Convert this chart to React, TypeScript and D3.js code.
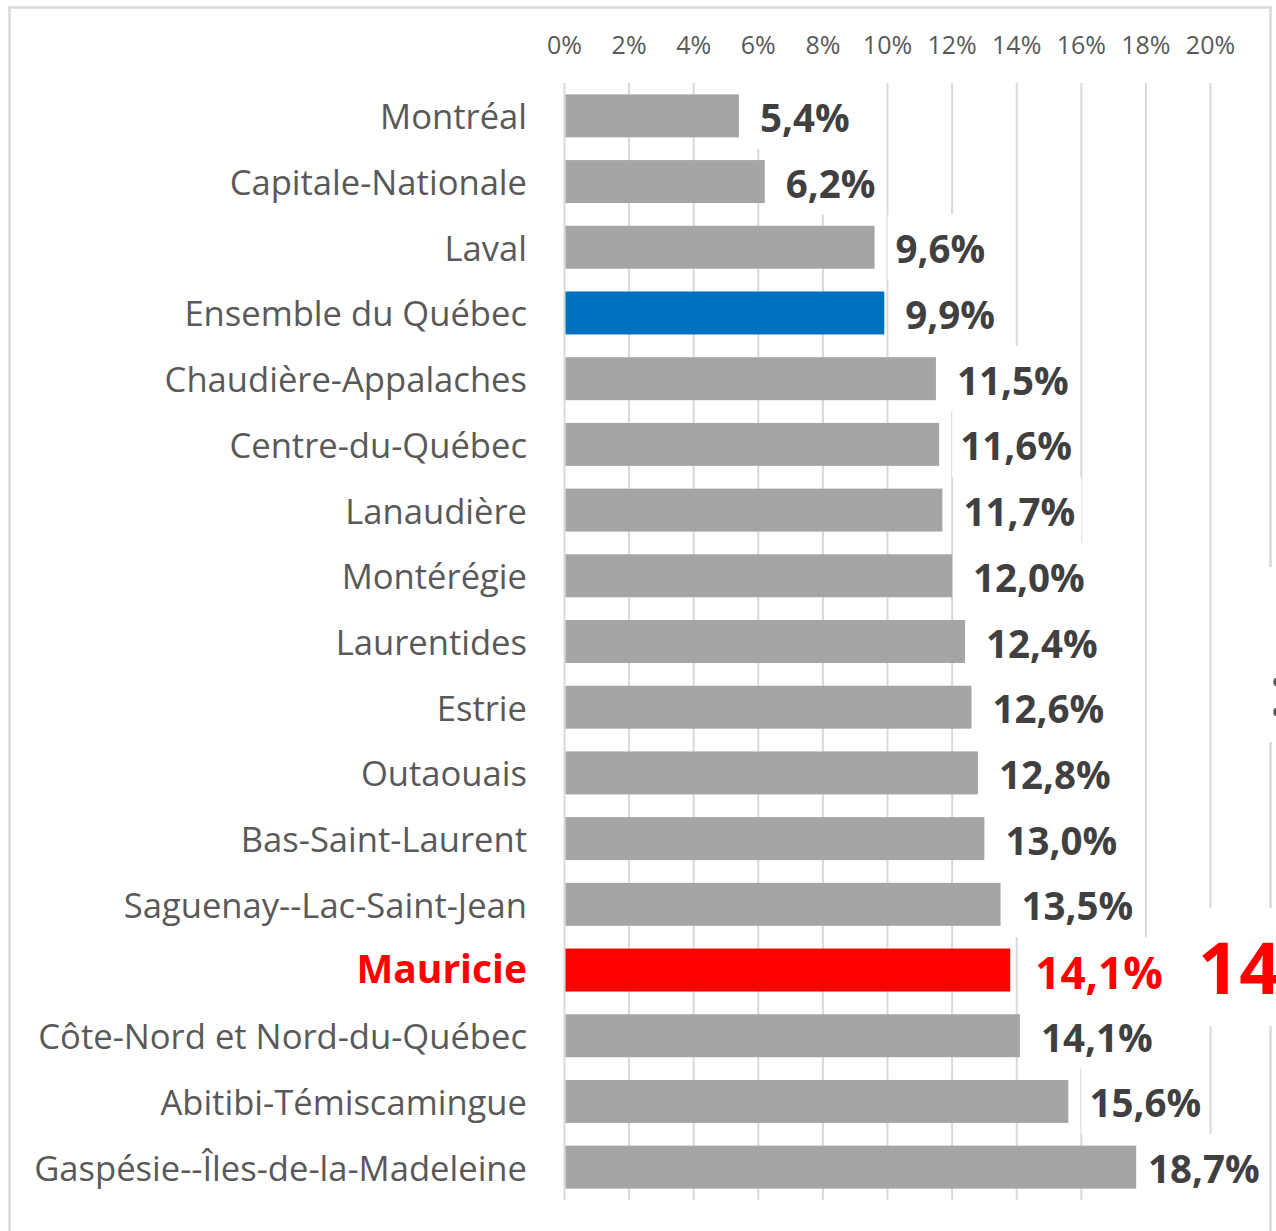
import React from "react";
import * as d3 from "d3";

const categories = [
  "Montréal",
  "Capitale-Nationale",
  "Laval",
  "Ensemble du Québec",
  "Chaudière-Appalaches",
  "Centre-du-Québec",
  "Lanaudière",
  "Montérégie",
  "Laurentides",
  "Estrie",
  "Outaouais",
  "Bas-Saint-Laurent",
  "Saguenay--Lac-Saint-Jean",
  "Mauricie",
  "Côte-Nord et Nord-du-Québec",
  "Abitibi-Témiscamingue",
  "Gaspésie--Îles-de-la-Madeleine",
];
// bar lengths as drawn in the picture
const values = [5.4, 6.2, 9.6, 9.9, 11.5, 11.6, 11.7, 12.0, 12.4, 12.6, 12.8, 13.0, 13.5, 13.8, 14.1, 15.6, 17.7];
// data labels as printed
const valueLabels = ["5,4%", "6,2%", "9,6%", "9,9%", "11,5%", "11,6%", "11,7%", "12,0%", "12,4%", "12,6%", "12,8%", "13,0%", "13,5%", "14,1%", "14,1%", "15,6%", "18,7%"];
const ticks = [0, 2, 4, 6, 8, 10, 12, 14, 16, 18, 20];
const highlightBlue = "Ensemble du Québec";
const highlightRed = "Mauricie";
const calloutText = "14,1%";

const FONT = "'Open Sans', 'Noto Sans', sans-serif";

export default function App() {
  const W = 1276;
  const H = 1231;
  const x = d3.scaleLinear().domain([0, 20]).range([564.5, 1210.5]);
  const y = d3.scaleBand<string>().domain(categories).range([83, 1200]).paddingInner(0.346).paddingOuter(0.173);
  const bw = y.bandwidth();
  const step = y.step();

  const colorOf = (c: string) => (c === highlightBlue ? "#0070c0" : c === highlightRed ? "#ff0000" : "#a5a5a5");

  const charW = (s: string, fs: number) => {
    let w = 0;
    for (const ch of s) {
      if (ch === ",") w += 0.27;
      else if (ch === "%") w += 0.87;
      else w += 0.572;
    }
    return w * fs;
  };

  return (
    <svg width={W} height={H} style={{ display: "block", position: "absolute", left: 0, top: 0, background: "#fff" }}>
      <rect x={0} y={0} width={W} height={H} fill="#fff" />
      <rect x={9.5} y={7.5} width={1261} height={1240} fill="#fff" stroke="#d9d9d9" strokeWidth={2.5} />
      {ticks.map((t) => (
        <line key={"g" + t} x1={x(t)} x2={x(t)} y1={83} y2={1200} stroke="#d9d9d9" strokeWidth={2} />
      ))}
      {ticks.map((t) => (
        <text key={"t" + t} x={x(t)} y={54} textAnchor="middle" fontFamily={FONT} fontSize={25} fill="#595959">
          {t + "%"}
        </text>
      ))}
      {categories.map((c, i) => (
        <rect key={"b" + c} x={x(0) + 1} y={y(c)} width={x(values[i]) - x(0) - 1} height={bw} fill={colorOf(c)} />
      ))}
      {categories.map((c) => {
        const red = c === highlightRed;
        return (
          <text
            key={"c" + c}
            x={527}
            y={(y(c) as number) + bw / 2 + (red ? 13 : 13.5)}
            textAnchor="end"
            fontFamily={FONT}
            fontSize={red ? 39 : 34.6}
            fontWeight={red ? 700 : 400}
            fill={red ? "#ff0000" : "#595959"}
          >
            {c}
          </text>
        );
      })}
      {categories.map((c, i) => {
        const red = c === highlightRed;
        const fs = red ? 44 : 38.5;
        const tw = charW(valueLabels[i], fs);
        const tx = Math.min(x(values[i]) + (red ? 25 : 21), 1258 - tw);
        const cy = (y(c) as number) + bw / 2;
        return (
          <g key={"l" + c}>
            <rect x={tx - 8} y={cy - step / 2} width={tw + 16} height={step} fill="#fff" />
            <text
              x={tx}
              y={cy + (red ? 19 : 16)}
              fontFamily={FONT}
              fontSize={fs}
              fontWeight={700}
              fill={red ? "#ff0000" : "#404040"}
            >
              {valueLabels[i]}
            </text>
          </g>
        );
      })}
      <rect x={1195} y={908} width={90} height={118} fill="#fff" />
      <text x={1198} y={994} fontFamily={FONT} fontSize={72} fontWeight={700} fill="#ff0000">
        {calloutText}
      </text>
      <rect x={1262} y={567} width={20} height={175} fill="#fff" />
      <text x={1268} y={716} fontFamily={FONT} fontSize={72} fill="#595959">
        {":"}
      </text>
    </svg>
  );
}
